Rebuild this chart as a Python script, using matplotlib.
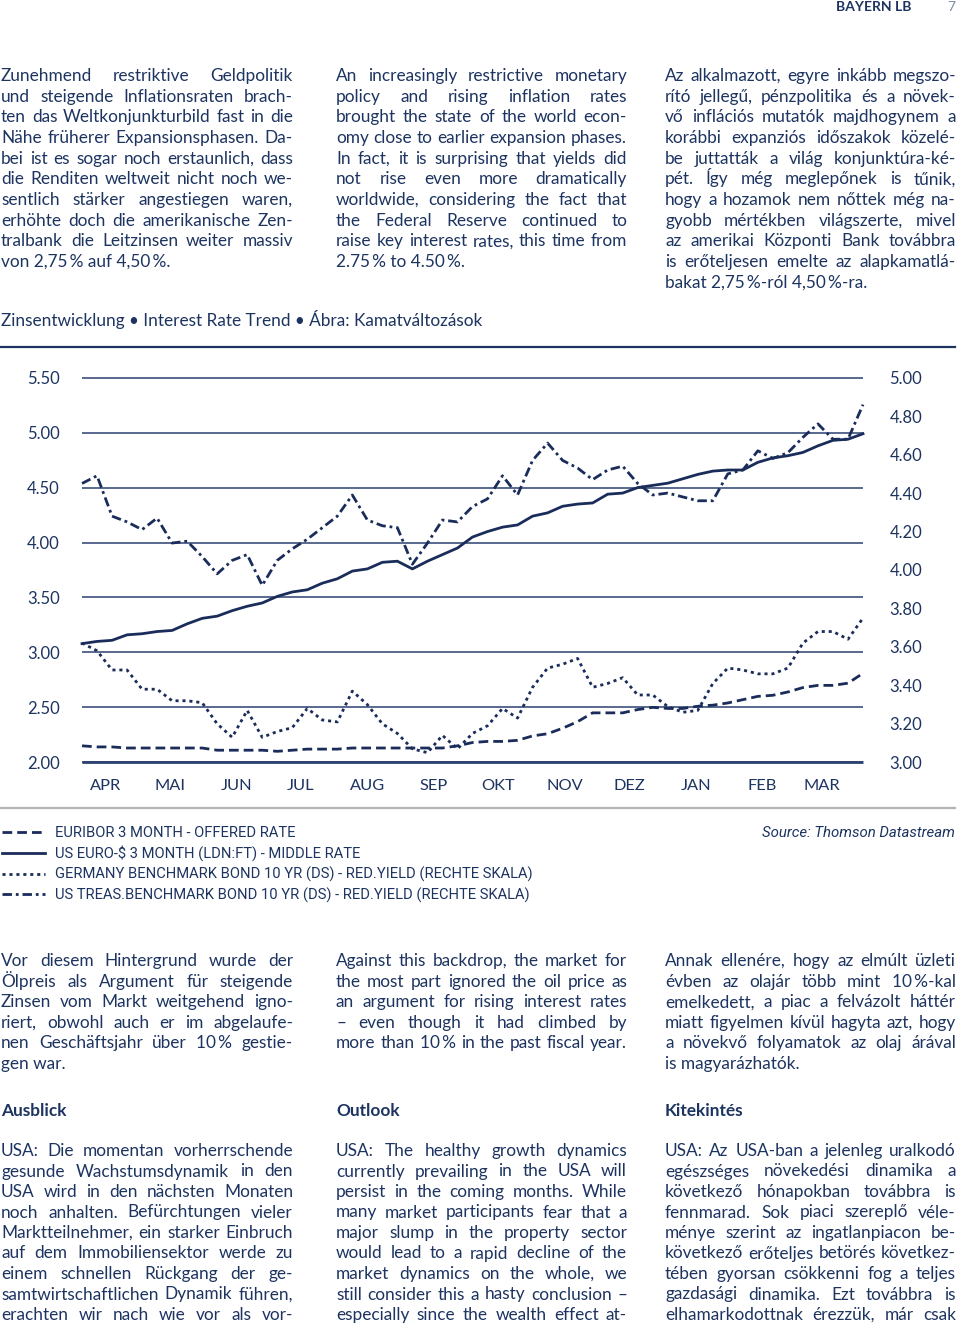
import matplotlib
matplotlib.use('Agg')
import matplotlib.pyplot as plt
from matplotlib.lines import Line2D
import pandas as pd

W, H = 960, 1331
navy = '#1d3461'
line_c = '#1a2c5a'
grid_c = '#2b4170'
body_font = ['Lato', 'DejaVu Sans']
narrow_font = ['Roboto', 'DejaVu Sans']
TS = '\u2009'  # thin space

# ---- data (weekly, Apr 2005 - Mar 2006) ----
weeks = pd.date_range('2005-04-01', periods=53, freq='7D')
months = ['APR', 'MAI', 'JUN', 'JUL', 'AUG', 'SEP', 'OKT', 'NOV', 'DEZ', 'JAN', 'FEB', 'MAR']
month_ticks = pd.date_range('2005-04-01', periods=12, freq='MS') + pd.Timedelta(days=11)

euribor_3m = [2.15, 2.14, 2.14, 2.13, 2.13, 2.13, 2.13, 2.13, 2.13, 2.11, 2.11, 2.11, 2.11,
              2.10, 2.11, 2.12, 2.12, 2.12, 2.13, 2.13, 2.13, 2.13, 2.13, 2.13, 2.13, 2.15,
              2.18, 2.19, 2.19, 2.20, 2.24, 2.26, 2.31, 2.37, 2.45, 2.45, 2.45, 2.48, 2.50,
              2.49, 2.49, 2.51, 2.52, 2.54, 2.57, 2.60, 2.61, 2.64, 2.68, 2.70, 2.70, 2.72, 2.81]
usd_3m = [3.08, 3.10, 3.11, 3.16, 3.17, 3.19, 3.20, 3.26, 3.31, 3.33, 3.38, 3.42, 3.45,
          3.51, 3.55, 3.57, 3.63, 3.67, 3.74, 3.76, 3.82, 3.83, 3.76, 3.83, 3.89, 3.95,
          4.05, 4.10, 4.14, 4.16, 4.24, 4.27, 4.33, 4.35, 4.36, 4.44, 4.45, 4.50, 4.52,
          4.54, 4.58, 4.62, 4.65, 4.66, 4.66, 4.73, 4.77, 4.79, 4.82, 4.88, 4.93, 4.94, 4.99]
de_10y = [3.62, 3.58, 3.48, 3.48, 3.38, 3.38, 3.32, 3.32, 3.31, 3.20, 3.13, 3.27, 3.13,
          3.16, 3.18, 3.28, 3.22, 3.21, 3.37, 3.30, 3.20, 3.15, 3.07, 3.05, 3.14, 3.07,
          3.15, 3.19, 3.28, 3.23, 3.39, 3.49, 3.51, 3.54, 3.39, 3.41, 3.44, 3.35, 3.35,
          3.29, 3.26, 3.27, 3.41, 3.49, 3.48, 3.46, 3.46, 3.49, 3.62, 3.68, 3.68, 3.64, 3.75]
us_10y = [4.45, 4.49, 4.28, 4.25, 4.21, 4.27, 4.14, 4.15, 4.07, 3.98, 4.05, 4.08, 3.92,
          4.05, 4.11, 4.16, 4.22, 4.28, 4.39, 4.26, 4.23, 4.22, 4.03, 4.14, 4.26, 4.25,
          4.33, 4.37, 4.49, 4.39, 4.57, 4.66, 4.57, 4.53, 4.47, 4.52, 4.54, 4.45, 4.39,
          4.40, 4.38, 4.36, 4.36, 4.50, 4.52, 4.62, 4.58, 4.61, 4.69, 4.76, 4.68, 4.68, 4.86]

left_ticks = [2.0, 2.5, 3.0, 3.5, 4.0, 4.5, 5.0, 5.5]
right_ticks = [3.0, 3.2, 3.4, 3.6, 3.8, 4.0, 4.2, 4.4, 4.6, 4.8, 5.0]

legend_names = ['EURIBOR 3 MONTH - OFFERED RATE',
                'US EURO-$ 3 MONTH (LDN:FT) - MIDDLE RATE',
                'GERMANY BENCHMARK BOND 10 YR (DS) - RED.YIELD (RECHTE SKALA)',
                'US TREAS.BENCHMARK BOND 10 YR (DS) - RED.YIELD (RECHTE SKALA)']
styles = [dict(dashes=(3.5, 1.8)), dict(linestyle='-'),
          dict(dashes=(1.1, 1.4)), dict(dashes=(3.4, 1.4, 1.0, 1.4))]

# ---- texts ----
top_de = ['Zunehmend restriktive Geldpolitik',
          'und steigende Inflationsraten brach-',
          'ten das Weltkonjunkturbild fast in die',
          'Nähe früherer Expansionsphasen. Da-',
          'bei ist es sogar noch erstaunlich, dass',
          'die Renditen weltweit nicht noch we-',
          'sentlich stärker angestiegen waren,',
          'erhöhte doch die amerikanische Zen-',
          'tralbank die Leitzinsen weiter massiv',
          f'von 2,75{TS}% auf 4,50{TS}%.']
top_en = ['An increasingly restrictive monetary',
          'policy and rising inflation rates',
          'brought the state of the world econ-',
          'omy close to earlier expansion phases.',
          'In fact, it is surprising that yields did',
          'not rise even more dramatically',
          'worldwide, considering the fact that',
          'the Federal Reserve continued to',
          'raise key interest rates, this time from',
          f'2.75{TS}% to 4.50{TS}%.']
top_hu = ['Az alkalmazott, egyre inkább megszo-',
          'rító jellegű, pénzpolitika és a növek-',
          'vő inflációs mutatók majdhogynem a',
          'korábbi expanziós időszakok közelé-',
          'be juttatták a világ konjunktúra-ké-',
          'pét. Így még meglepőnek is tűnik,',
          'hogy a hozamok nem nőttek még na-',
          'gyobb mértékben világszerte, mivel',
          'az amerikai Központi Bank továbbra',
          'is erőteljesen emelte az alapkamatlá-',
          f'bakat 2,75{TS}%-ról 4,50{TS}%-ra.']
mid_de = ['Vor diesem Hintergrund wurde der',
          'Ölpreis als Argument für steigende',
          'Zinsen vom Markt weitgehend igno-',
          'riert, obwohl auch er im abgelaufe-',
          f'nen Geschäftsjahr über 10{TS}% gestie-',
          'gen war.']
mid_en = ['Against this backdrop, the market for',
          'the most part ignored the oil price as',
          'an argument for rising interest rates',
          '– even though it had climbed by',
          f'more than 10{TS}% in the past fiscal year.']
mid_hu = ['Annak ellenére, hogy az elmúlt üzleti',
          f'évben az olajár több mint 10{TS}%-kal',
          'emelkedett, a piac a felvázolt háttér',
          'miatt figyelmen kívül hagyta azt, hogy',
          'a növekvő folyamatok az olaj árával',
          'is magyarázhatók.']
low_de = ['USA: Die momentan vorherrschende',
          'gesunde Wachstumsdynamik in den',
          'USA wird in den nächsten Monaten',
          'noch anhalten. Befürchtungen vieler',
          'Marktteilnehmer, ein starker Einbruch',
          'auf dem Immobiliensektor werde zu',
          'einem schnellen Rückgang der ge-',
          'samtwirtschaftlichen Dynamik führen,',
          'erachten wir nach wie vor als vor-']
low_en = ['USA: The healthy growth dynamics',
          'currently prevailing in the USA will',
          'persist in the coming months. While',
          'many market participants fear that a',
          'major slump in the property sector',
          'would lead to a rapid decline of the',
          'market dynamics on the whole, we',
          'still consider this a hasty conclusion –',
          'especially since the wealth effect at-']
low_hu = ['USA: Az USA-ban a jelenleg uralkodó',
          'egészséges növekedési dinamika a',
          'következő hónapokban továbbra is',
          'fennmarad. Sok piaci szereplő véle-',
          'ménye szerint az ingatlanpiacon be-',
          'következő erőteljes betörés következ-',
          'tében gyorsan csökkenni fog a teljes',
          'gazdasági dinamika. Ezt továbbra is',
          'elhamarkodottnak érezzük, már csak']

fig = plt.figure(figsize=(W / 100, H / 100), dpi=100)
fig.patch.set_facecolor('white')
renderer = fig.canvas.get_renderer()

BODY = 12.4


def put(x, y, s, **kw):
    kw.setdefault('color', navy)
    kw.setdefault('family', body_font)
    kw.setdefault('fontsize', BODY)
    kw.setdefault('va', 'baseline')
    return fig.text(x / W, 1 - y / H, s, **kw)


def para(x0, x1, y0, step, lines, last_free=True):
    for k, s in enumerate(lines):
        y = y0 + k * step + 6
        words = s.split(' ')
        if (last_free and k == len(lines) - 1) or len(words) == 1:
            put(x0, y, s)
            continue
        size = BODY
        while True:
            objs = [put(0, y, w, fontsize=size) for w in words]
            widths = [o.get_window_extent(renderer).width for o in objs]
            gap = (x1 - x0 - sum(widths)) / (len(words) - 1)
            if gap >= 3 or size < 10:
                break
            for o in objs:
                o.remove()
            size -= 0.2
        x = x0
        for o, w in zip(objs, widths):
            o.set_x(x / W)
            x += w + gap


cols = [(1, 293), (336, 627), (665, 956)]

# header
put(912, 11, 'BAYERN LB', ha='right', fontsize=10, weight='bold')
put(955, 11, '7', ha='right', fontsize=10, color='#7f8aa5')

para(*cols[0], 75, 20.65, top_de)
para(*cols[1], 75, 20.65, top_en)
para(*cols[2], 75, 20.65, top_hu)

put(1, 326, 'Zinsentwicklung • Interest Rate Trend • Ábra: Kamatváltozások')
fig.add_artist(Line2D([0, 955 / W], [1 - 347 / H] * 2, color=navy, lw=1.6))
fig.add_artist(Line2D([0, 955 / W], [1 - 808 / H] * 2, color='#b4b4b4', lw=1.6))

# ---- chart ----
ax = fig.add_axes([82 / W, 1 - 762.3 / H, (863 - 82) / W, (762.3 - 377.7) / H])
ax2 = ax.twinx()
ax.set_xlim(weeks[0], weeks[-1])
ax.set_ylim(2.0, 5.5)
ax2.set_ylim(3.0, 5.0)
ax.hlines(left_ticks, weeks[0], weeks[-1], color=grid_c, lw=1.1, clip_on=False, zorder=1)
ax.hlines([2.0], weeks[0], weeks[-1], color=grid_c, lw=2.0, clip_on=False, zorder=1)

ax.plot(weeks, euribor_3m, color=line_c, lw=2.0, clip_on=False, **styles[0])
ax.plot(weeks, usd_3m, color=line_c, lw=2.0, clip_on=False, **styles[1])
ax2.plot(weeks, de_10y, color=line_c, lw=2.0, clip_on=False, **styles[2])
ax2.plot(weeks, us_10y, color=line_c, lw=2.0, clip_on=False, **styles[3])

for a in (ax, ax2):
    for s in a.spines.values():
        s.set_visible(False)
    a.tick_params(length=0, labelsize=12, labelcolor=navy)
ax.set_yticks(left_ticks)
ax.set_yticklabels([f'{v:.2f}' for v in left_ticks], family=body_font)
ax.tick_params(axis='y', pad=16)
ax2.set_yticks(right_ticks)
ax2.set_yticklabels([f'{v:.2f}' for v in right_ticks], family=body_font)
ax2.tick_params(axis='y', pad=19)
ax.set_xticks(month_ticks)
ax.set_xticklabels(months, family=body_font, fontsize=11.8)
ax.tick_params(axis='x', pad=12)

# ---- legend ----
for k, (name, st) in enumerate(zip(legend_names, styles)):
    y = 832 + k * 20.8
    fig.add_artist(Line2D([2 / W, 45 / W], [1 - y / H] * 2, color=line_c, lw=2.0, **st))
    put(55, y + 5, name, family=narrow_font, fontsize=10.6)
put(955, 837, 'Source: Thomson Datastream', ha='right', family=narrow_font,
    fontsize=10.8, style='italic')

para(*cols[0], 960, 20.6, mid_de)
para(*cols[1], 960, 20.6, mid_en, last_free=False)
para(*cols[2], 960, 20.6, mid_hu)

for (x0, _), h in zip(cols, ['Ausblick', 'Outlook', 'Kitekintés']):
    put(x0, 1116, h, weight='bold')

para(*cols[0], 1150, 20.5, low_de, last_free=False)
para(*cols[1], 1150, 20.5, low_en, last_free=False)
para(*cols[2], 1150, 20.5, low_hu, last_free=False)

fig.savefig('out.png', dpi=100)
